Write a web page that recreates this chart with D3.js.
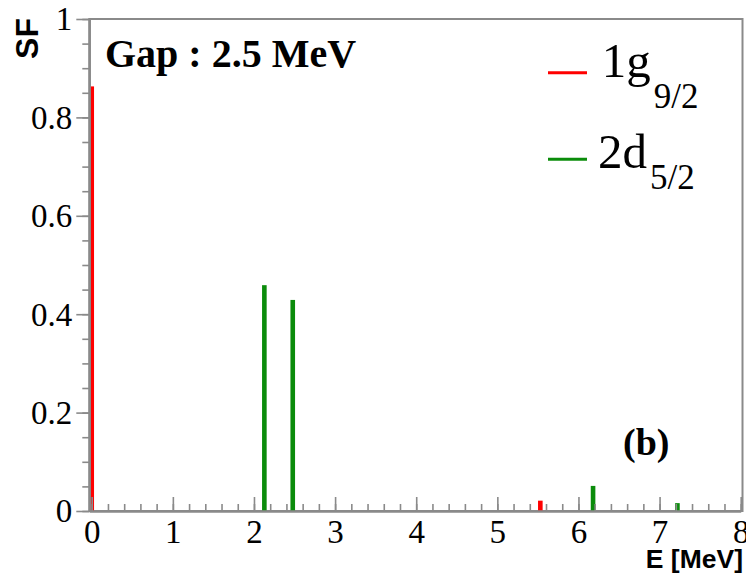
<!DOCTYPE html>
<html>
<head>
<meta charset="utf-8">
<script src="https://cdn.jsdelivr.net/npm/d3@7"></script>
<style>
  html, body { margin: 0; padding: 0; background: #fff; }
  svg { display: block; }
</style>
</head>
<body>
<svg id="chart" width="746" height="574"></svg>
<script>
// ---- data ----
const seriesNames = ["1g", "2d"];
const seriesSubs = ["9/2", "5/2"];
const g92Energy = [0.0, 5.53];
const g92SF = [0.863, 0.021];
const d52Energy = [2.128, 2.478, 6.18, 7.22];
const d52SF = [0.459, 0.429, 0.051, 0.016];
const xMajorTicks = [0, 1, 2, 3, 4, 5, 6, 7, 8];
const yMajorTicks = [0, 0.2, 0.4, 0.6, 0.8, 1];
const yTickLabels = ["0", "0.2", "0.4", "0.6", "0.8", "1"];
const gapLabel = "Gap : 2.5 MeV";
const panelLabel = "(b)";
const xTitle = "E [MeV]";
const yTitle = "SF";

(function () {
// ---- layout ----
const svg = d3.select("#chart");
const pL = 89.3, pR = 742.5, pT = 19, pB = 511;
const xs = d3.scaleLinear().domain([-0.03, 8]).range([pL, 740.7]);
const y = d3.scaleLinear().domain([0, 1]).range([pB, pT]);
const grey = "#8a8a8a";
const serif = "'Liberation Serif', 'Times New Roman', serif";
const sans = "'Liberation Sans', Arial, sans-serif";
const red = "#ff0000", green = "#0b8c0b";

// frame
svg.append("rect").attr("x", pL).attr("y", pT)
  .attr("width", pR - pL).attr("height", pB - pT)
  .attr("fill", "none").attr("stroke", grey).attr("stroke-width", 2);

// bars
const barW = 4.6;
function bars(es, vs, col) {
  svg.append("g").selectAll("rect").data(es.map((e, i) => [e, vs[i]])).join("rect")
    .attr("x", d => xs(d[0]) - barW / 2)
    .attr("y", d => y(d[1]))
    .attr("width", barW)
    .attr("height", d => y(0) - y(d[1]))
    .attr("fill", col);
}
bars(g92Energy, g92SF, red);
bars(d52Energy, d52SF, green);

// x axis: ticks inward (up)
const xMinor = d3.range(0, 8.0001, 0.2).map(v => +v.toFixed(2));
svg.append("g").attr("transform", `translate(0,${pB})`)
  .call(d3.axisBottom(xs).tickValues(xMinor).tickSize(-7).tickSizeOuter(0).tickFormat(""));
const gx = svg.append("g").attr("transform", `translate(0,${pB})`)
  .call(d3.axisBottom(xs).tickValues(xMajorTicks).tickSize(-14).tickSizeOuter(0).tickPadding(9));
gx.attr("font-family", null).attr("font-size", null);
gx.selectAll("text").style("font-family", serif).style("font-size", "33px")
  .attr("fill", "#000").attr("dy", "0.71em");

// y axis: ticks outward (left)
const yMinor = d3.range(0, 1.0001, 0.05).map(v => +v.toFixed(2));
svg.append("g").attr("transform", `translate(${pL},0)`)
  .call(d3.axisLeft(y).tickValues(yMinor).tickSize(7).tickSizeOuter(0).tickFormat(""));
const gy = svg.append("g").attr("transform", `translate(${pL},0)`)
  .call(d3.axisLeft(y).tickValues(yMajorTicks).tickSize(13).tickSizeOuter(0).tickPadding(4)
    .tickFormat((d, i) => yTickLabels[i]));
gy.attr("font-family", null).attr("font-size", null);
gy.selectAll("text").style("font-family", serif).style("font-size", "33px")
  .attr("fill", "#000").attr("dy", "0.33em");

svg.selectAll(".domain").attr("stroke", grey).attr("stroke-width", 2);
svg.selectAll(".tick line").attr("stroke", grey).attr("stroke-width", 1.6);

// axis titles
svg.append("text").attr("transform", "translate(37.5,18) rotate(-90)")
  .attr("text-anchor", "end").style("font-family", sans).attr("font-weight", "bold")
  .style("font-size", "32px").text(yTitle);
svg.append("text").attr("x", 743).attr("y", 568)
  .attr("text-anchor", "end").style("font-family", sans).attr("font-weight", "bold")
  .style("font-size", "26.5px").text(xTitle);

// annotations
svg.append("text").attr("x", 105).attr("y", 66.5)
  .style("font-family", serif).attr("font-weight", "bold").style("font-size", "40px").text(gapLabel);
svg.append("text").attr("x", 623).attr("y", 455)
  .style("font-family", serif).attr("font-weight", "bold").style("font-size", "38px").text(panelLabel);

// legend
const legY = [72.7, 159.3];
const legTextX = [601.7, 598];
const legBase = [76.7, 168];
const subDy = [31.5, 20.5];
const cols = [red, green];
seriesNames.forEach((n, i) => {
  svg.append("line").attr("x1", 548).attr("x2", 587).attr("y1", legY[i]).attr("y2", legY[i])
    .attr("stroke", cols[i]).attr("stroke-width", 3);
  const t = svg.append("text").attr("x", legTextX[i]).attr("y", legBase[i])
    .style("font-family", serif).style("font-size", "49px");
  t.append("tspan").text(n);
  t.append("tspan").attr("dx", 3).attr("dy", subDy[i]).style("font-size", "35px").text(seriesSubs[i]);
});
})();
</script>
</body>
</html>
